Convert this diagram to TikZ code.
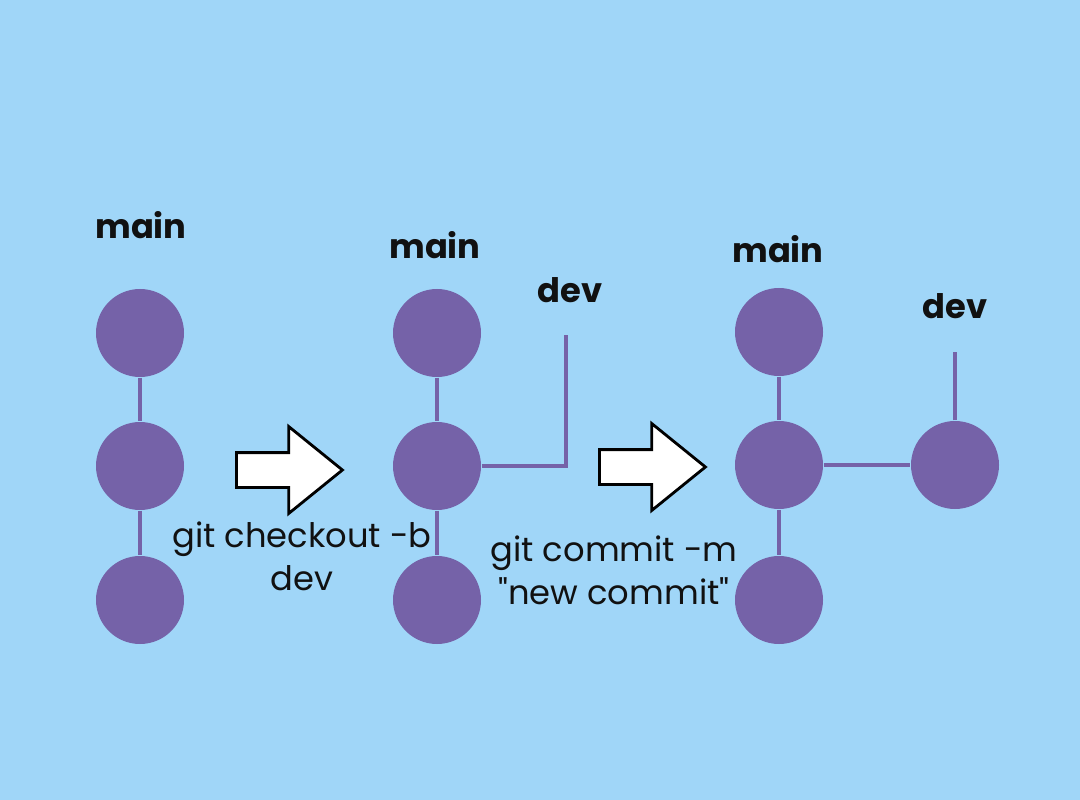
\documentclass[tikz,border=0pt]{standalone}
\usepackage{fontspec}
\setmainfont{Poppins}[Ligatures=TeXOff]
\usepackage{tikz}
\usetikzlibrary{arrows.meta,positioning,shapes.arrows}
\definecolor{Sky}{HTML}{A0D6F8}
\definecolor{Purple}{HTML}{7562A8}
\definecolor{Ink}{HTML}{111111}

\begin{document}
\begin{tikzpicture}[
  commit/.style={circle,fill=Purple,minimum size=0.88cm,inner sep=0pt},
  branch/.style={draw=Purple,line width=1.3pt},
  lbl/.style={text=Ink,font=\bfseries\fontsize{9.6}{12}\selectfont},
  cmd/.style={text=Ink,align=center,font=\fontsize{9.6}{12.3}\selectfont},
  goarrow/.style={single arrow,draw=black,fill=white,line width=0.8pt,inner xsep=0pt,inner ysep=0.16cm,
    minimum height=1.06cm,minimum width=0.84cm,single arrow head extend=0.26cm,single arrow tip angle=78,anchor=tail}
]
\fill[Sky] (0,0) rectangle (10.8,-8);
% first state
\node[commit] (a1) at (1.40,-3.33) {};
\node[commit] (a2) at (1.40,-4.66) {};
\node[commit] (a3) at (1.40,-6.00) {};
\node[lbl] (ma) at (1.41,-2.25) {main};
% second state
\node[commit] (b1) at (4.37,-3.33) {};
\node[commit] (b2) at (4.37,-4.66) {};
\node[commit] (b3) at (4.37,-6.00) {};
\node[lbl] (mb) at (4.35,-2.45) {main};
\node[lbl] (db) at (5.70,-2.90) {dev};
\coordinate (tb) at (5.66,-3.35);
% third state
\node[commit] (c1) at (7.79,-3.32) {};
\node[commit] (c2) at (7.79,-4.65) {};
\node[commit] (c3) at (7.79,-6.00) {};
\node[commit] (c4) at (9.55,-4.65) {};
\node[lbl] (mc) at (7.78,-2.49) {main};
\node[lbl] (dc) at (9.55,-3.06) {dev};
\coordinate (tc) at (9.55,-3.52);
\foreach \a/\b in {a1/a2,a2/a3,b1/b2,b2/b3,c1/c2,c2/c3} {
  \draw[branch] (\a) -- (\b);
}
\draw[branch] (b2) -| (tb);
\draw[branch] (c2) -- (c4);
\draw[branch] (c4) -- (tc);
% commands
\node[goarrow] (g1) at (2.35,-4.70) {};
\node[cmd] (k1) at (3.02,-5.56) {git checkout -b\\dev};
\node[goarrow] (g2) at (5.98,-4.67) {};
\node[cmd] (k2) at (6.14,-5.70) {git commit -m\\"new commit"};
\end{tikzpicture}
\end{document}
